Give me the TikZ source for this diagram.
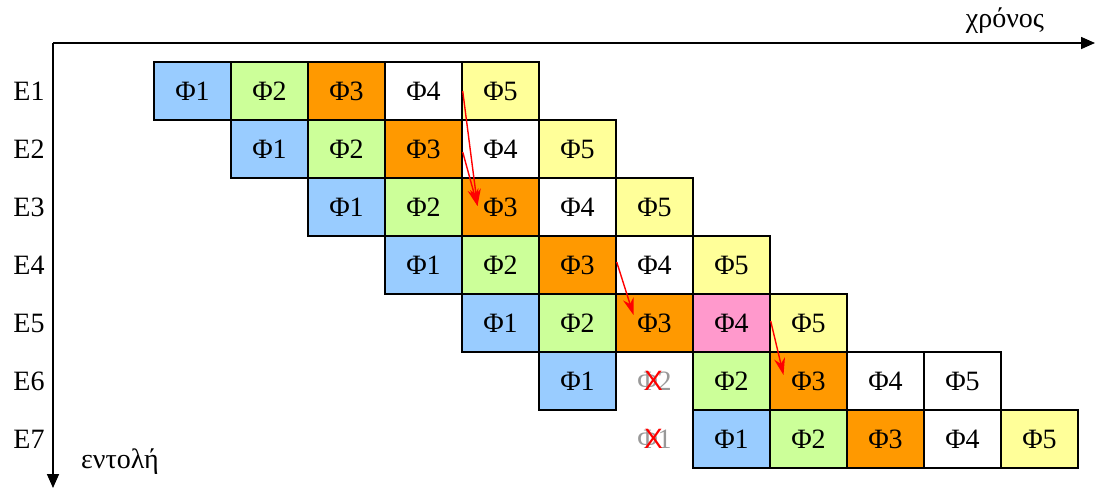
\documentclass[tikz,border=0pt]{standalone}
\usepackage{fontspec}
\setmainfont{Liberation Serif}
\newfontfamily\xfont{Liberation Sans}
\usetikzlibrary{arrows.meta,calc}
\definecolor{cblue}{HTML}{99CCFF}
\definecolor{cgreen}{HTML}{CCFF99}
\definecolor{corange}{HTML}{FF9900}
\definecolor{cyellow}{HTML}{FFFF99}
\definecolor{cpink}{HTML}{FF99CC}
\definecolor{cgrey}{HTML}{999999}
\newcommand\mycell[4]{%
  \node[cellbox,fill=#4] (c#1-#2) at ({192.5+77*#2},{91+58*(#1-1)}) {#3};}
\newcommand\mycancel[3]{%
  \node[txt,text=cgrey] (x#1-#2) at ({192.5+77*#2},{91+58*(#1-1)}) {#3};
  \node[txt,text=red,font=\xfont\fontsize{28}{32}\selectfont] at ($(x#1-#2.center)+(-1,0)$) {X};}
\tikzset{
  txt/.style={font=\fontsize{28}{32}\selectfont, inner sep=0pt},
  cellbox/.style={txt, draw=black, line width=1.4pt, minimum width=77pt, minimum height=58pt},
  axis/.style={line width=1.6pt, -{Triangle[length=14pt,width=12pt]}},
  dep/.style={red, line width=1.4pt, -{Stealth[length=17pt,width=11pt]}}
}
\begin{document}
\begin{tikzpicture}[x=1pt,y=-1pt]
\useasboundingbox (0,0) rectangle (1095,488);
% axes
\coordinate (o) at (53,43);
\coordinate (tend) at (1095,43);
\coordinate (iend) at (53,488);
\draw[axis] (o) -- (tend);
\draw[axis] (o) -- (iend);
\node[txt] (time) at (1005,21) {χρόνος};
\node[txt] (instr) at (120,462) {εντολή};
% row labels
\foreach \r in {1,...,7}{
  \node[txt] (e\r) at (29,{91+58*(\r-1)}) {E\r};
}
% E1
\mycell{1}{0}{Φ1}{cblue}
\mycell{1}{1}{Φ2}{cgreen}
\mycell{1}{2}{Φ3}{corange}
\mycell{1}{3}{Φ4}{white}
\mycell{1}{4}{Φ5}{cyellow}
% E2
\mycell{2}{1}{Φ1}{cblue}
\mycell{2}{2}{Φ2}{cgreen}
\mycell{2}{3}{Φ3}{corange}
\mycell{2}{4}{Φ4}{white}
\mycell{2}{5}{Φ5}{cyellow}
% E3
\mycell{3}{2}{Φ1}{cblue}
\mycell{3}{3}{Φ2}{cgreen}
\mycell{3}{4}{Φ3}{corange}
\mycell{3}{5}{Φ4}{white}
\mycell{3}{6}{Φ5}{cyellow}
% E4
\mycell{4}{3}{Φ1}{cblue}
\mycell{4}{4}{Φ2}{cgreen}
\mycell{4}{5}{Φ3}{corange}
\mycell{4}{6}{Φ4}{white}
\mycell{4}{7}{Φ5}{cyellow}
% E5
\mycell{5}{4}{Φ1}{cblue}
\mycell{5}{5}{Φ2}{cgreen}
\mycell{5}{6}{Φ3}{corange}
\mycell{5}{7}{Φ4}{cpink}
\mycell{5}{8}{Φ5}{cyellow}
% E6
\mycell{6}{5}{Φ1}{cblue}
\mycancel{6}{6}{Φ2}
\mycell{6}{7}{Φ2}{cgreen}
\mycell{6}{8}{Φ3}{corange}
\mycell{6}{9}{Φ4}{white}
\mycell{6}{10}{Φ5}{white}
% E7
\mycancel{7}{6}{Φ1}
\mycell{7}{7}{Φ1}{cblue}
\mycell{7}{8}{Φ2}{cgreen}
\mycell{7}{9}{Φ3}{corange}
\mycell{7}{10}{Φ4}{white}
\mycell{7}{11}{Φ5}{cyellow}
% dependency arrows
\draw[dep] (c1-3.east) -- ($(c3-4.center)+(-23,-1)$);
\draw[dep] ($(c2-3.east)+(0,3)$) -- ($(c3-4.center)+(-23,-1)$);
\draw[dep] ($(c4-5.east)+(0,-3)$) -- ($(c5-6.center)+(-21,-8)$);
\draw[dep] ($(c5-7.east)+(0,-2)$) -- ($(c6-8.center)+(-25,-6)$);
\end{tikzpicture}
\end{document}
